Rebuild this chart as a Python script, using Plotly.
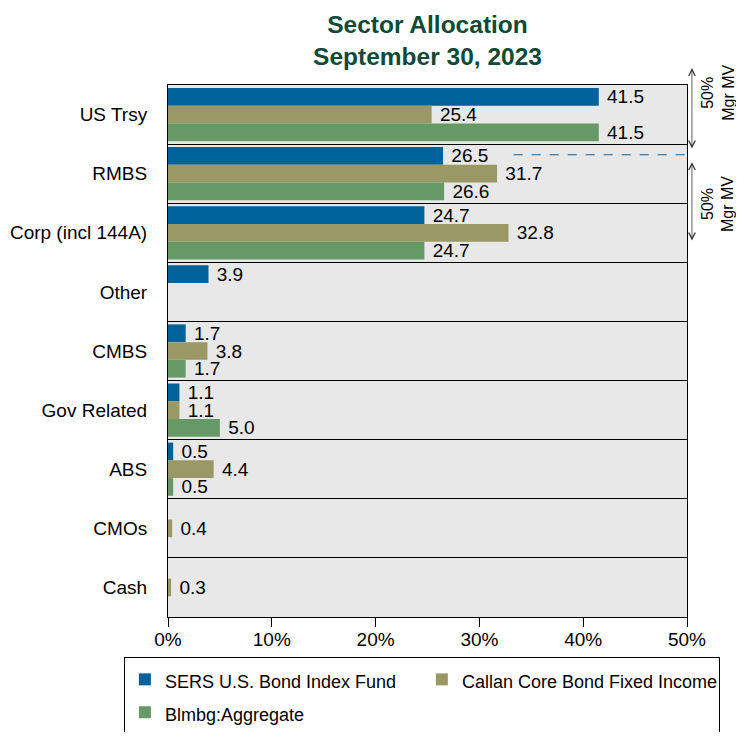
import plotly.graph_objects as go

categories = ["US Trsy", "RMBS", "Corp (incl 144A)", "Other", "CMBS",
              "Gov Related", "ABS", "CMOs", "Cash"]
sers = [41.5, 26.5, 24.7, 3.9, 1.7, 1.1, 0.5, None, None]
callan = [25.4, 31.7, 32.8, None, 3.8, 1.1, 4.4, 0.4, 0.3]
blmbg = [41.5, 26.6, 24.7, None, 1.7, 5.0, 0.5, None, None]
series_names = ["SERS U.S. Bond Index Fund", "Callan Core Bond Fixed Income", "Blmbg:Aggregate"]
colors = ["#00629B", "#9A9966", "#679966"]
x_ticks = [0, 10, 20, 30, 40, 50]

FONT = "Liberation Sans, Arial, sans-serif"
W, H = 728, 724

fig = go.Figure()
for name, vals, col in zip(series_names, [sers, callan, blmbg], colors):
    fig.add_trace(go.Bar(
        y=categories, x=vals, orientation="h",
        name='<span style="font-size:18px">' + name + '</span>',
        marker=dict(color=col, line=dict(width=0)),
        text=[("\u00a0" + f"{v:.1f}") if v is not None else "" for v in vals],
        textposition="outside", constraintext="none", cliponaxis=False,
        textfont=dict(family=FONT, size=19, color="black"),
        hoverinfo="x+y",
    ))

fig.update_layout(
    width=W, height=H, autosize=False,
    barmode="group", bargap=0.1, bargroupgap=0.0,
    paper_bgcolor="white", plot_bgcolor="#E8E8E8",
    margin=dict(l=160, r=49, t=77, b=115, pad=0, autoexpand=False),
    font=dict(family=FONT, size=19, color="black"),
    title=dict(text="<b>Sector Allocation<br>September 30, 2023</b>",
               font=dict(family=FONT, size=24.5, color="#0F4A38"),
               x=0.5, xref="paper", xanchor="center",
               yref="container", y=1 - 25 / H, yanchor="middle"),
    xaxis=dict(range=[0, 50], tickvals=x_ticks, ticktext=[f"{t}%" for t in x_ticks],
               ticks="outside", ticklen=9, tickcolor="black", showgrid=False,
               showline=True, linecolor="black", linewidth=1, mirror=True,
               zeroline=False, tickfont=dict(size=19), automargin=False,
               ticklabelstandoff=-4),
    yaxis=dict(categoryorder="array", categoryarray=categories, autorange="reversed",
               tickson="boundaries", ticks="", showgrid=True, gridcolor="black", gridwidth=1,
               showline=True, linecolor="black", linewidth=1, mirror=True,
               ticklabelstandoff=16, tickfont=dict(size=19), automargin=False),
    legend=dict(orientation="h", x=-0.085, xanchor="left", y=-0.075, yanchor="top",
                bordercolor="black", borderwidth=1, bgcolor="white",
                font=dict(size=23), entrywidth=252, traceorder="normal",
                itemclick=False),
    showlegend=True,
)

# dashed marker line at the 50% cut in RMBS
fig.add_shape(type="line", xref="x", yref="y", x0=33.3, x1=50, y0=0.68, y1=0.68,
              line=dict(color="#00629B", width=1, dash="dash"))

# double-headed arrows with labels
for y_head, y_tail, y_text in [(1.032, 0.878, 0.985), (0.855, 0.705, 0.776)]:
    fig.add_annotation(xref="x domain", yref="y domain", axref="x domain", ayref="y domain",
                       x=1.0096, y=y_head, ax=1.0096, ay=y_tail, text="",
                       showarrow=True, arrowhead=5, startarrowhead=5, arrowside="end+start",
                       arrowsize=1.6, startarrowsize=1.6, arrowwidth=0.8, arrowcolor="#333333")
    fig.add_annotation(xref="x domain", yref="y domain", x=1.0594, y=y_text,
                       text="50%<br>Mgr MV", showarrow=False, textangle=-90,
                       font=dict(family=FONT, size=16, color="black"),
                       xanchor="center", yanchor="middle")

fig.write_html("out.html")
